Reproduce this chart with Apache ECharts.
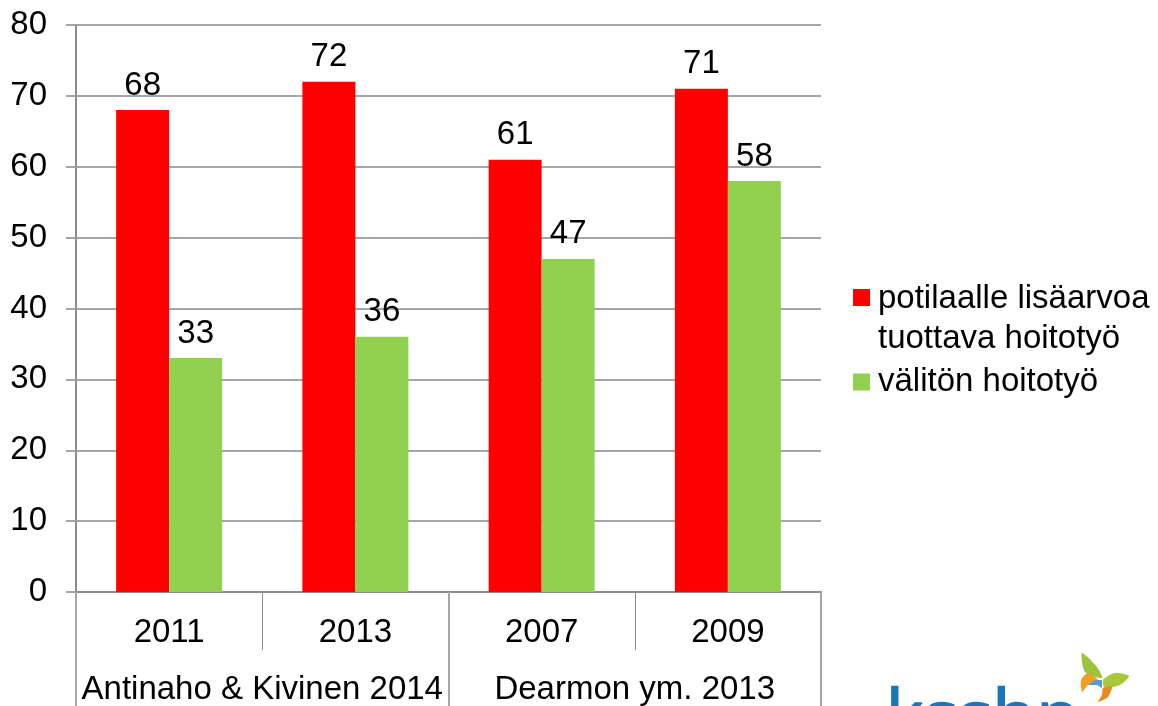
<!DOCTYPE html>
<html>
<head>
<meta charset="utf-8">
<script src="https://cdn.jsdelivr.net/npm/echarts@6/dist/echarts.min.js"></script>
<style>
html, body { margin: 0; padding: 0; background: #fff; }
#main { width: 1158px; height: 706px; overflow: hidden; }
</style>
</head>
<body>
<div id="main"></div>
<script>
const years = ['2011', '2013', '2007', '2009'];
const studies = ['Antinaho & Kivinen 2014', 'Dearmon ym. 2013'];
const addedValue = [68, 72, 61, 71];
const directCare = [33, 36, 47, 58];

const font = '"Liberation Sans", Arial, sans-serif';
const gray = '#8c8c8c';
const lightGray = '#a6a6a6';
const fontSize = 33;
const addedValueName = 'potilaalle lisäarvoa\ntuottava hoitotyö';
const directCareName = 'välitön hoitotyö';
const legendText = { fontFamily: font, fontSize, color: '#000', lineHeight: 40, padding: [0, 0, 0, 3] };

const chart = echarts.init(document.getElementById('main'), null, { renderer: 'canvas' });

chart.setOption({
    animation: false,
    backgroundColor: '#fff',
    grid: { left: 76, right: 337, top: 25, bottom: 114 },
    legend: [
        {
            orient: 'vertical',
            left: 848,
            top: 274,
            itemWidth: 17,
            itemHeight: 80,
            textStyle: legendText,
            // 正方形只对齐第一行文字
            data: [{ name: addedValueName, icon: 'path://M0,0L0,0ZM0,10H17V27H0ZM17,80L17,80Z' }]
        },
        {
            orient: 'vertical',
            left: 848,
            top: 357,
            itemWidth: 17,
            itemHeight: 17,
            textStyle: legendText,
            data: [{ name: directCareName, icon: 'rect' }]
        }
    ],
    xAxis: [
        {
            type: 'category',
            position: 'bottom',
            data: years,
            axisLine: { show: true, onZero: false, lineStyle: { color: gray, width: 2 } },
            axisTick: { show: true, alignWithLabel: false, length: 58, lineStyle: { color: gray, width: 1 } },
            axisLabel: { margin: 24, fontFamily: font, fontSize, color: '#000', interval: 0 }
        },
        {
            type: 'category',
            position: 'bottom',
            data: studies,
            axisLine: { show: false },
            axisTick: { show: true, length: 114, lineStyle: { color: lightGray, width: 2 } },
            axisLabel: { margin: 81, fontFamily: font, fontSize, color: '#000', interval: 0 }
        }
    ],
    yAxis: {
        type: 'value',
        min: 0,
        max: 80,
        interval: 10,
        axisLine: { show: true, lineStyle: { color: gray, width: 2 } },
        axisTick: { show: true, length: 10, lineStyle: { color: lightGray, width: 2 } },
        axisLabel: { margin: 29, fontFamily: font, fontSize, color: '#000' },
        splitLine: { show: true, lineStyle: { color: lightGray, width: 2 } }
    },
    series: [
        {
            name: addedValueName,
            type: 'bar',
            data: addedValue,
            barWidth: 53,
            barGap: 0,
            itemStyle: { color: '#ff0000' },
            label: { show: true, position: 'top', distance: 8, fontFamily: font, fontSize, color: '#000' }
        },
        {
            name: directCareName,
            type: 'bar',
            data: directCare,
            barWidth: 53,
            barGap: 0,
            itemStyle: { color: '#92d050' },
            label: { show: true, position: 'top', distance: 8, fontFamily: font, fontSize, color: '#000' }
        }
    ],
    graphic: [
        // 右下角徽标,下半部分被画面裁掉
        { type: 'text', left: 885, top: 684, silent: true, style: { text: 'ksshp', fontFamily: '"Open Sans", sans-serif', fontSize: 72, fill: '#1b75bb', stroke: '#1b75bb', lineWidth: 1.5 } },
        { type: 'polygon', silent: true, shape: { smooth: 0.25, points: [[1082, 653], [1097, 667], [1102, 678], [1085, 672]] }, style: { fill: '#9cc33c' } },
        { type: 'polygon', silent: true, shape: { smooth: 0.25, points: [[1103, 680], [1115, 673], [1129, 676], [1120, 685], [1105, 688]] }, style: { fill: '#a8c83a' } },
        { type: 'polygon', silent: true, shape: { smooth: 0.2, points: [[1082, 692], [1081, 680], [1088, 673], [1098, 680], [1088, 685]] }, style: { fill: '#f0a020' } },
        { type: 'polygon', silent: true, shape: { smooth: 0.2, points: [[1103, 688], [1112, 687], [1108, 697], [1098, 702], [1102, 695]] }, style: { fill: '#e88a20' } },
        { type: 'polygon', silent: true, shape: { points: [[1095, 680], [1102, 680], [1102, 688], [1097, 685], [1088, 685]] }, style: { fill: '#5b9bd5' } }
    ]
});
</script>
</body>
</html>
